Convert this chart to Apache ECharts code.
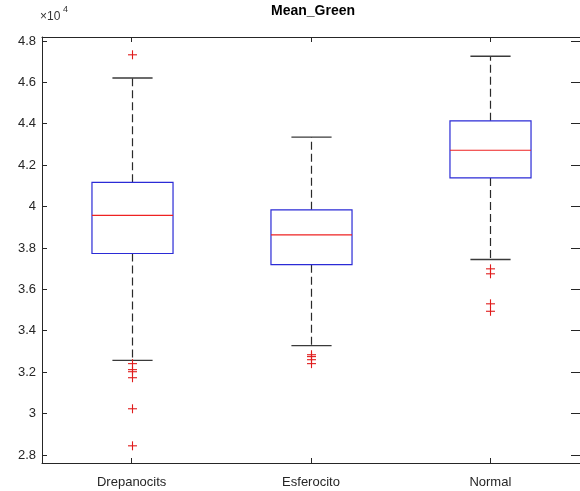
<!DOCTYPE html>
<html><head><meta charset="utf-8">
<script src="https://cdn.jsdelivr.net/npm/echarts@6/dist/echarts.min.js"></script>
<style>html,body{margin:0;padding:0;background:#fff}#c{width:580px;height:491px}</style>
</head><body><div id="c"></div>
<script>
const categories = ['Drepanocits', 'Esferocito', 'Normal'];
// box statistics per category
const lowerWhisker = [32570, 33280, 37440];
const q1Values     = [37730, 37190, 41380];
const medianValues = [39570, 38630, 42720];
const q3Values     = [41170, 39840, 44140];
const upperWhisker = [46210, 43350, 47260];
const outlierCategory = [0, 0, 0, 0, 0, 0, 0, 1, 1, 1, 1, 2, 2, 2, 2];
const outlierValues   = [47330, 32410, 32120, 32020, 31730, 30230, 28440,
                         32840, 32750, 32600, 32410,
                         36990, 36750, 35300, 34940];
const yTicks = [28000, 30000, 32000, 34000, 36000, 38000, 40000, 42000, 44000, 46000, 48000];
const titleText = 'Mean_Green';

const FONT = "'Liberation Sans', Arial, Helvetica, sans-serif";
const boxData = categories.map((c, i) => [i, lowerWhisker[i], q1Values[i], medianValues[i], q3Values[i], upperWhisker[i]]);
const outData = outlierCategory.map((c, i) => [c, outlierValues[i]]);

const chart = echarts.init(document.getElementById('c'), null, {renderer: 'canvas'});
const Y_MIN = 27610, Y_MAX = 48190;

chart.setOption({
  animation: false,
  backgroundColor: '#ffffff',
  grid: {left: 42, top: 37, width: 543, height: 426, containLabel: false},
  graphic: [
    {type: 'text', x: 313, y: 4, style: {text: titleText, font: "bold 14px " + FONT, fill: '#000', textAlign: 'center'}},
    {type: 'text', x: 40, y: 11, style: {text: '×10', font: "12px " + FONT, fill: '#333'}},
    {type: 'text', x: 63, y: 5, style: {text: '4', font: "9px " + FONT, fill: '#333'}}
  ],
  xAxis: [
    {type: 'category', data: categories, position: 'bottom', boundaryGap: true,
     axisLine: {show: true, lineStyle: {color: '#262626', width: 1}},
     axisTick: {show: true, inside: true, alignWithLabel: true, length: 5, lineStyle: {color: '#262626'}},
     axisLabel: {color: '#262626', fontSize: 13, fontFamily: FONT, margin: 13},
     splitLine: {show: false}},
    {type: 'category', data: categories, position: 'top', boundaryGap: true,
     axisLine: {show: true, lineStyle: {color: '#262626', width: 1}},
     axisTick: {show: true, inside: true, alignWithLabel: true, length: 5, lineStyle: {color: '#262626'}},
     axisLabel: {show: false}, splitLine: {show: false}}
  ],
  yAxis: [
    {type: 'value', min: Y_MIN, max: Y_MAX, position: 'left',
     axisLine: {show: true, lineStyle: {color: '#262626', width: 1}},
     axisTick: {show: true, inside: true, length: 5, customValues: yTicks, lineStyle: {color: '#262626'}},
     axisLabel: {customValues: yTicks, color: '#262626', fontSize: 13, fontFamily: FONT, margin: 6,
                 formatter: v => String(+(v / 10000).toFixed(1))},
     splitLine: {show: false}},
    {type: 'value', min: Y_MIN, max: Y_MAX, position: 'right',
     axisLine: {show: true, lineStyle: {color: '#262626', width: 1}},
     axisTick: {show: true, inside: true, length: 9, customValues: yTicks, lineStyle: {color: '#262626'}},
     axisLabel: {show: false}, splitLine: {show: false}}
  ],
  series: [
    {type: 'custom', xAxisIndex: 0, yAxisIndex: 0, data: boxData,
     encode: {x: 0, y: [1, 2, 3, 4, 5]},
     renderItem: function (params, api) {
       const x = api.value(0);
       const bw = api.size([1, 0])[0];
       const hb = bw * 0.226, hc = bw * 0.112;
       const pLo = api.coord([x, api.value(1)]);
       const pQ1 = api.coord([x, api.value(2)]);
       const pMd = api.coord([x, api.value(3)]);
       const pQ3 = api.coord([x, api.value(4)]);
       const pHi = api.coord([x, api.value(5)]);
       const cx = Math.round(pMd[0]) + 0.5;
       const dash = {stroke: '#2a2a2a', lineWidth: 1.2, lineDash: [8, 4]};
       const cap = {stroke: '#3a3a3a', lineWidth: 1.3};
       return {type: 'group', children: [
         {type: 'line', shape: {x1: cx, y1: pQ3[1], x2: cx, y2: pHi[1]}, style: dash},
         {type: 'line', shape: {x1: cx, y1: pQ1[1], x2: cx, y2: pLo[1]}, style: dash},
         {type: 'line', shape: {x1: cx - hc, y1: pHi[1], x2: cx + hc, y2: pHi[1]}, style: cap},
         {type: 'line', shape: {x1: cx - hc, y1: pLo[1], x2: cx + hc, y2: pLo[1]}, style: cap},
         {type: 'rect', shape: {x: cx - hb, y: pQ3[1], width: 2 * hb, height: pQ1[1] - pQ3[1]},
          style: {fill: 'none', stroke: '#2b2bd6', lineWidth: 1.2}},
         {type: 'line', shape: {x1: cx - hb, y1: pMd[1], x2: cx + hb, y2: pMd[1]},
          style: {stroke: '#ee2222', lineWidth: 1.2}}
       ]};
     }},
    {type: 'custom', xAxisIndex: 0, yAxisIndex: 0, data: outData,
     encode: {x: 0, y: 1},
     renderItem: function (params, api) {
       const p = api.coord([api.value(0), api.value(1)]);
       const cx = Math.round(p[0]) + 0.5, cy = p[1], r = 4.5;
       const st = {stroke: '#e01b1b', lineWidth: 1.1};
       return {type: 'group', children: [
         {type: 'line', shape: {x1: cx - r, y1: cy, x2: cx + r, y2: cy}, style: st},
         {type: 'line', shape: {x1: cx, y1: cy - r, x2: cx, y2: cy + r}, style: st}
       ]};
     }}
  ]
});
</script>
</body></html>
